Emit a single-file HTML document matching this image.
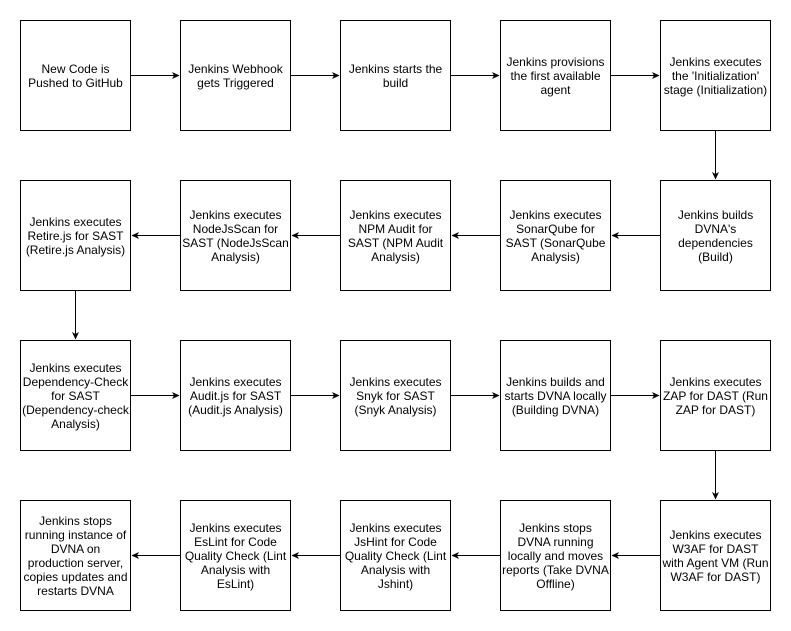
<!DOCTYPE html>
<html><head><meta charset="utf-8"><style>body{margin:0;background:#fff}svg{display:block}text{font-family:"Liberation Sans",Arial,sans-serif;font-size:12px;fill:#000}</style></head><body>
<svg width="791" height="631" xmlns="http://www.w3.org/2000/svg">
<defs><marker id="a" markerWidth="8" markerHeight="8" refX="7" refY="4" orient="auto" markerUnits="userSpaceOnUse"><path d="M0,0.5 L7.5,4 L0,7.5 L2,4 Z" fill="#000"/></marker></defs>
<g fill="#fff" stroke="#000" stroke-width="1">
<rect x="20.5" y="20.5" width="110" height="110"/><rect x="180.5" y="20.5" width="110" height="110"/><rect x="340.5" y="20.5" width="110" height="110"/><rect x="500.5" y="20.5" width="110" height="110"/><rect x="660.5" y="20.5" width="110" height="110"/>
<rect x="20.5" y="180.5" width="110" height="110"/><rect x="180.5" y="180.5" width="110" height="110"/><rect x="340.5" y="180.5" width="110" height="110"/><rect x="500.5" y="180.5" width="110" height="110"/><rect x="660.5" y="180.5" width="110" height="110"/>
<rect x="20.5" y="340.5" width="110" height="110"/><rect x="180.5" y="340.5" width="110" height="110"/><rect x="340.5" y="340.5" width="110" height="110"/><rect x="500.5" y="340.5" width="110" height="110"/><rect x="660.5" y="340.5" width="110" height="110"/>
<rect x="20.5" y="500.5" width="110" height="110"/><rect x="180.5" y="500.5" width="110" height="110"/><rect x="340.5" y="500.5" width="110" height="110"/><rect x="500.5" y="500.5" width="110" height="110"/><rect x="660.5" y="500.5" width="110" height="110"/>
</g>
<g stroke="#000" stroke-width="1" marker-end="url(#a)">
<line x1="131" y1="75.5" x2="179" y2="75.5"/><line x1="291" y1="75.5" x2="339" y2="75.5"/><line x1="451" y1="75.5" x2="499" y2="75.5"/><line x1="611" y1="75.5" x2="659" y2="75.5"/>
<line x1="715.5" y1="131" x2="715.5" y2="179"/>
<line x1="660" y1="235.5" x2="612" y2="235.5"/><line x1="500" y1="235.5" x2="452" y2="235.5"/><line x1="340" y1="235.5" x2="292" y2="235.5"/><line x1="180" y1="235.5" x2="132" y2="235.5"/>
<line x1="75.5" y1="291" x2="75.5" y2="339"/>
<line x1="131" y1="395.5" x2="179" y2="395.5"/><line x1="291" y1="395.5" x2="339" y2="395.5"/><line x1="451" y1="395.5" x2="499" y2="395.5"/><line x1="611" y1="395.5" x2="659" y2="395.5"/>
<line x1="715.5" y1="451" x2="715.5" y2="499"/>
<line x1="660" y1="555.5" x2="612" y2="555.5"/><line x1="500" y1="555.5" x2="452" y2="555.5"/><line x1="340" y1="555.5" x2="292" y2="555.5"/><line x1="180" y1="555.5" x2="132" y2="555.5"/>
</g>
<g text-anchor="middle">
<text x="75.5" y="73">New Code is</text><text x="75.5" y="87">Pushed to GitHub</text>
<text x="235.5" y="73">Jenkins Webhook</text><text x="235.5" y="87">gets Triggered</text>
<text x="395.5" y="73">Jenkins starts the</text><text x="395.5" y="87">build</text>
<text x="555.5" y="66">Jenkins provisions</text><text x="555.5" y="80">the first available</text><text x="555.5" y="94">agent</text>
<text x="715.5" y="66">Jenkins executes</text><text x="715.5" y="80">the 'Initialization'</text><text x="715.5" y="94">stage (Initialization)</text>
<text x="75.5" y="226">Jenkins executes</text><text x="75.5" y="240">Retire.js for SAST</text><text x="75.5" y="254">(Retire.js Analysis)</text>
<text x="235.5" y="219">Jenkins executes</text><text x="235.5" y="233">NodeJsScan for</text><text x="235.5" y="247">SAST (NodeJsScan</text><text x="235.5" y="261">Analysis)</text>
<text x="395.5" y="219">Jenkins executes</text><text x="395.5" y="233">NPM Audit for</text><text x="395.5" y="247">SAST (NPM Audit</text><text x="395.5" y="261">Analysis)</text>
<text x="555.5" y="219">Jenkins executes</text><text x="555.5" y="233">SonarQube for</text><text x="555.5" y="247">SAST (SonarQube</text><text x="555.5" y="261">Analysis)</text>
<text x="715.5" y="219">Jenkins builds</text><text x="715.5" y="233">DVNA's</text><text x="715.5" y="247">dependencies</text><text x="715.5" y="261">(Build)</text>
<text x="75.5" y="372">Jenkins executes</text><text x="75.5" y="386">Dependency-Check</text><text x="75.5" y="400">for SAST</text><text x="75.5" y="414">(Dependency-check</text><text x="75.5" y="428">Analysis)</text>
<text x="235.5" y="386">Jenkins executes</text><text x="235.5" y="400">Audit.js for SAST</text><text x="235.5" y="414">(Audit.js Analysis)</text>
<text x="395.5" y="386">Jenkins executes</text><text x="395.5" y="400">Snyk for SAST</text><text x="395.5" y="414">(Snyk Analysis)</text>
<text x="555.5" y="386">Jenkins builds and</text><text x="555.5" y="400">starts DVNA locally</text><text x="555.5" y="414">(Building DVNA)</text>
<text x="715.5" y="386">Jenkins executes</text><text x="715.5" y="400">ZAP for DAST (Run</text><text x="715.5" y="414">ZAP for DAST)</text>
<text x="75.5" y="525">Jenkins stops</text><text x="75.5" y="539">running instance of</text><text x="75.5" y="553">DVNA on</text><text x="75.5" y="567">production server,</text><text x="75.5" y="581">copies updates and</text><text x="75.5" y="595">restarts DVNA</text>
<text x="235.5" y="532">Jenkins executes</text><text x="235.5" y="546">EsLint for Code</text><text x="235.5" y="560">Quality Check (Lint</text><text x="235.5" y="574">Analysis with</text><text x="235.5" y="588">EsLint)</text>
<text x="395.5" y="532">Jenkins executes</text><text x="395.5" y="546">JsHint for Code</text><text x="395.5" y="560">Quality Check (Lint</text><text x="395.5" y="574">Analysis with</text><text x="395.5" y="588">Jshint)</text>
<text x="555.5" y="532">Jenkins stops</text><text x="555.5" y="546">DVNA running</text><text x="555.5" y="560">locally and moves</text><text x="555.5" y="574">reports (Take DVNA</text><text x="555.5" y="588">Offline)</text>
<text x="715.5" y="539">Jenkins executes</text><text x="715.5" y="553">W3AF for DAST</text><text x="715.5" y="567">with Agent VM (Run</text><text x="715.5" y="581">W3AF for DAST)</text>
</g>
</svg>
</body></html>
